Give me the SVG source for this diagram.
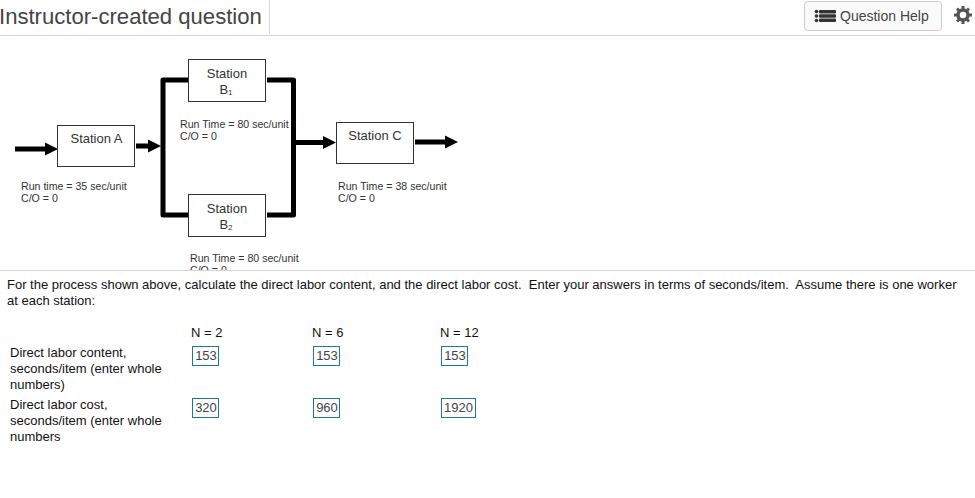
<svg xmlns="http://www.w3.org/2000/svg" width="975" height="498" viewBox="0 0 975 498">
<style>
text{font-family:"Liberation Sans",Arial,sans-serif;fill:#222}
.sm{font-size:10.6px;fill:#333}
.st{font-size:13px;fill:#333;text-anchor:middle}
.body{font-size:13px;fill:#111;white-space:pre}
.val{font-size:13px;fill:#444;text-anchor:middle}
.box{fill:#fff;stroke:#333;stroke-width:1}
.inp{fill:#fff;stroke:#1a7a9c;stroke-width:1}
.thick{fill:none;stroke:#000;stroke-width:5;stroke-linejoin:round}
.sep{stroke:#d4d4dc;stroke-width:1}
</style>
<defs>
<marker id="ah" markerUnits="userSpaceOnUse" markerWidth="14" markerHeight="14" refX="0" refY="7" orient="auto"><path d="M0 0.500L13 7L0 13.500Z" fill="#000"/></marker>
</defs>
<rect width="975" height="498" fill="#fff"/>
<g id="header">
<text x="-1" y="24" style="font-size:22.1px;fill:#444">Instructor-created question</text>
<line x1="269.500" y1="0" x2="269.500" y2="34" stroke="#d4d4dc"/>
<line class="sep" x1="0" y1="35.500" x2="975" y2="35.500"/>
<rect x="804.500" y="1.500" width="137" height="29" rx="3" fill="#fafafa" stroke="#ccc"/>
<g fill="#333"><circle cx="816.500" cy="11.500" r="1.800"/><circle cx="816.500" cy="16" r="1.800"/><circle cx="816.500" cy="20.500" r="1.800"/>
<rect x="819" y="10" width="17" height="3.500" rx="1"/><rect x="819" y="14.300" width="17" height="3.500" rx="1"/><rect x="819" y="18.600" width="17" height="3.500" rx="1"/></g>
<text x="840" y="21" style="font-size:14px;fill:#444">Question Help</text>
<g fill="#555"><circle cx="963" cy="15" r="5" fill="none" stroke="#555" stroke-width="3.500"/>
<path d="M961.500 6h3v3.500h-3zM961.500 20.500h3v3.500h-3zM954 13.500h3.500v3h-3.500zM968.500 13.500h3.500v3h-3.500z"/>
<path d="M956 9.500l2-2 2.500 2.500-2 2zM970 9.500l-2-2-2.500 2.500 2 2zM956 20.500l2 2 2.500-2.500-2-2zM970 20.500l-2 2-2.500-2.500 2-2z"/></g>
</g>
<g id="connectors">
<line class="thick" x1="15" y1="149" x2="45" y2="149" marker-end="url(#ah)"/>
<line class="thick" x1="136" y1="146" x2="148" y2="146" marker-end="url(#ah)"/>
<path class="thick" d="M188 80H163V215H188"/>
<path class="thick" d="M267 80H293.500V215H267"/>
<line class="thick" x1="293" y1="142.500" x2="323" y2="142.500" marker-end="url(#ah)"/>
<line class="thick" x1="415" y1="142" x2="445" y2="142" marker-end="url(#ah)"/>
</g>
<g id="station-a">
<rect class="box" x="57.500" y="125.500" width="77" height="41"/>
<text class="st" x="96.500" y="143">Station A</text>
<text class="sm" x="21" y="190">Run time = 35 sec/unit</text>
<text class="sm" x="21" y="202">C/O = 0</text>
</g>
<g id="station-b1">
<rect class="box" x="188.500" y="59.500" width="77" height="42"/>
<text class="st" x="227" y="78">Station</text>
<text class="st" x="226" y="94">B<tspan font-size="8" dy="1">1</tspan></text>
<text class="sm" x="180" y="128">Run Time = 80 sec/unit</text>
<text class="sm" x="180" y="140">C/O = 0</text>
</g>
<g id="station-b2">
<rect class="box" x="188.500" y="194.500" width="77" height="42"/>
<text class="st" x="227" y="213">Station</text>
<text class="st" x="226" y="229">B<tspan font-size="8" dy="1">2</tspan></text>
<text class="sm" x="190" y="262">Run Time = 80 sec/unit</text>
<text class="sm" x="190" y="274">C/O = 0</text>
</g>
<g id="station-c">
<rect class="box" x="336.500" y="122.500" width="77" height="41"/>
<text class="st" x="375" y="140">Station C</text>
<text class="sm" x="338" y="190">Run Time = 38 sec/unit</text>
<text class="sm" x="338" y="202">C/O = 0</text>
</g>
<g id="question">
<rect x="0" y="271" width="975" height="227" fill="#fff"/>
<line class="sep" x1="0" y1="270.500" x2="975" y2="270.500"/>
<text class="body" x="7" y="289">For the process shown above, calculate the direct labor content, and the direct labor cost.  Enter your answers in terms of seconds/item.  Assume there is one worker</text>
<text class="body" x="7" y="305">at each station:</text>
<text class="body" x="191" y="337">N = 2</text>
<text class="body" x="312" y="337">N = 6</text>
<text class="body" x="440" y="337">N = 12</text>
<text class="body" x="10" y="357">Direct labor content,</text>
<text class="body" x="10" y="373">seconds/item (enter whole</text>
<text class="body" x="10" y="389">numbers)</text>
<text class="body" x="10" y="409">Direct labor cost,</text>
<text class="body" x="10" y="425">seconds/item (enter whole</text>
<text class="body" x="10" y="441">numbers</text>
<rect class="inp" x="192.500" y="346.500" width="26" height="19"/><text class="val" x="206" y="360">153</text>
<rect class="inp" x="313.500" y="346.500" width="26" height="19"/><text class="val" x="327" y="360">153</text>
<rect class="inp" x="441.500" y="346.500" width="26" height="19"/><text class="val" x="455" y="360">153</text>
<rect class="inp" x="192.500" y="398.500" width="26" height="19"/><text class="val" x="206" y="412">320</text>
<rect class="inp" x="313.500" y="398.500" width="26" height="19"/><text class="val" x="327" y="412">960</text>
<rect class="inp" x="441.500" y="398.500" width="34" height="19"/><text class="val" x="458.500" y="412">1920</text>
</g>
</svg>
